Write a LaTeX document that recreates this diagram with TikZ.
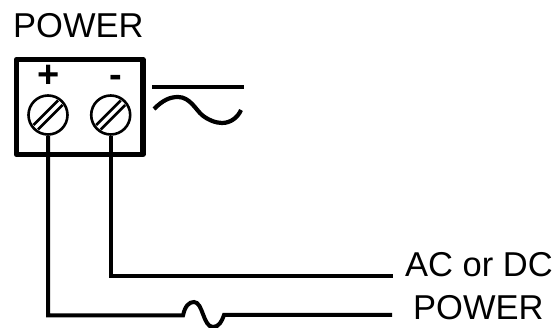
\documentclass[tikz,border=0pt]{standalone}
\usepackage{fontspec}
\setmainfont{Liberation Sans}
\tikzset{
 lbl/.style={inner sep=0pt,font=\fontsize{34.5}{36}\selectfont,text=black},
 sign/.style={inner sep=0pt,font=\bfseries\fontsize{38}{38}\selectfont,text=black},
 screw/.style={circle,draw=black,line width=2.6pt,minimum size=39pt,inner sep=0pt},
 wire/.style={draw=black,line width=4pt,line join=miter},
 slot/.style={draw=black,line width=2.6pt},
 frame/.style={draw=black,line width=5.5pt,line join=round},
 symb/.style={draw=black,line width=4.2pt}
}
\begin{document}
\begin{tikzpicture}[x=1pt,y=-1pt]
\useasboundingbox (0,0) rectangle (555,328);
\node[lbl,anchor=base west] (title) at (13,38) {POWER};
\draw[frame] (16.5,59.5) rectangle (143,154.5);
\node[sign] (plus) at (49,76.5) {+};
\node[sign] (minus) at (116,81) {-};
\node[screw] (s1) at (48,115) {};
\node[screw] (s2) at (110.7,115) {};
\foreach \s/\x in {s1/48,s2/110.7}{
 \draw[slot] (\x-14.5,115+10) -- (\x+10,115-14.5);
 \draw[slot] (\x-10,115+14.5) -- (\x+14.5,115-10);
}
\draw[symb] (152,87) -- (244,87);
\draw[symb] (154,109) .. controls (163,100) and (170,97) .. (178,97)
  .. controls (190,97) and (196,110) .. (202,115)
  .. controls (208,120) and (216,123) .. (222,123)
  .. controls (231,123) and (238,117) .. (241,110);
\node[lbl,anchor=base west] (acdc) at (405,277) {AC or DC};
\node[lbl,anchor=base west] (pwr) at (413,320) {POWER};
\coordinate (e1) at (393,276);
\coordinate (e2) at (392,315);
\coordinate (f1) at (183,315.5);
\coordinate (f2) at (224,315.5);
\draw[wire] (s2.south) |- (e1);
\draw[wire] (s1.south) |- (f1)
  .. controls (185,306) and (189,302) .. (194,302)
  .. controls (203,302) and (203,327) .. (213,327)
  .. controls (219,327) and (222,321) .. (224,315)
  -- (e2);
\end{tikzpicture}
\end{document}
